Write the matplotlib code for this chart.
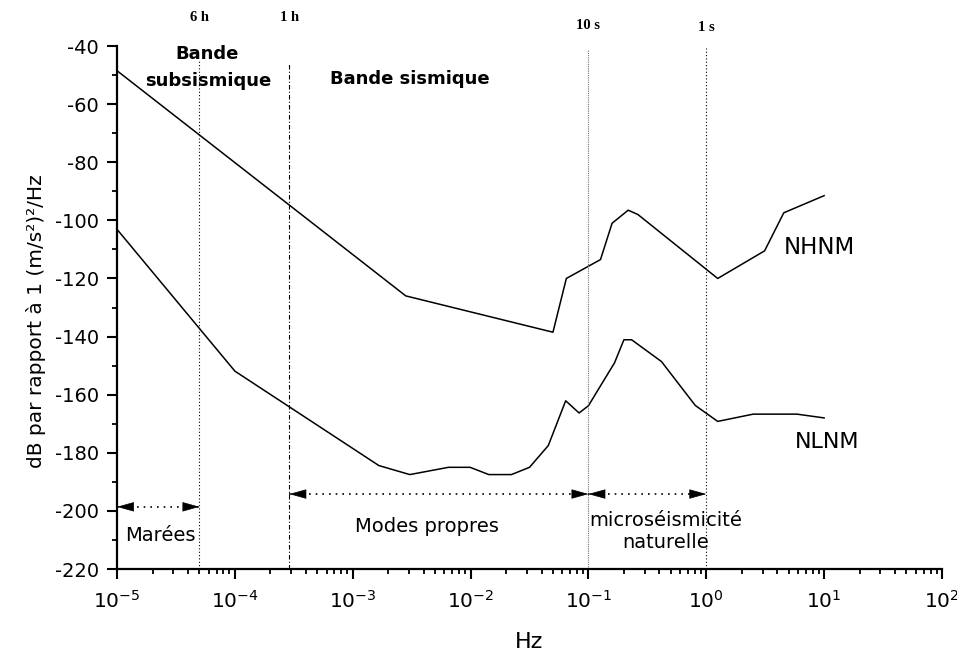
import numpy as np
import matplotlib
matplotlib.use('Agg')
import matplotlib.pyplot as plt
from matplotlib.ticker import MultipleLocator, LogLocator, NullFormatter

# Peterson noise models (breakpoints)
nhnm_hz = [1e-5, 1/354.8, 1/20.0, 1/15.4, 1/7.9, 1/6.3, 1/4.6, 1/3.8, 1/0.8, 1/0.32, 1/0.22, 1/0.1]
nhnm_db = [-48.5, -126.0, -138.5, -120.0, -113.5, -101.0, -96.5, -98.0, -120.0, -110.5, -97.4, -91.5]

nlnm_hz = [1e-5, 1e-4, 1/600., 1/328., 1/154., 1/101., 1/70., 1/45., 1/31.6, 1/21.9, 1/15.6,
           1/12., 1/10., 1/6., 1/5., 1/4.3, 1/2.4, 1/1.24, 1/0.8, 1/0.4, 1/0.17, 1/0.1]
nlnm_db = [-103.1, -151.9, -184.4, -187.5, -185.0, -185.0, -187.5, -187.5, -185.0, -177.5, -162.1,
           -166.3, -163.8, -149.0, -141.1, -141.1, -148.6, -163.7, -169.2, -166.7, -166.7, -168.0]

# vertical period markers
mark_hz = [5e-5, 2.9e-4, 0.1, 1.0]
mark_top = [-44.8, -45.9, -41.4, -40.7]
mark_lbl = ['6 h', '1 h', '10 s', '1 s']
mark_lbl_y = [-30.3, -30.3, -33.0, -33.6]
mark_style = [(0, (1, 2)), (0, (4, 2, 1, 2)), (0, (1, 1)), (0, (1, 2))]
mark_color = ['k', 'k', '0.45', 'k']

# range arrows (start Hz, end Hz, level dB)
arr_x0 = [1e-5, 2.9e-4, 0.1]
arr_x1 = [5e-5, 0.1, 1.0]
arr_y = [-198.6, -194.2, -194.2]

plt.rcParams['font.family'] = ['DejaVu Sans']
plt.rcParams['axes.unicode_minus'] = False
fig = plt.figure(figsize=(9.57, 6.52), dpi=100)
ax = fig.add_axes([0.1223, 0.1273, 0.8620, 0.8021])

ax.plot(nhnm_hz, nhnm_db, color='k', lw=1.1)
ax.plot(nlnm_hz, nlnm_db, color='k', lw=1.1)
ax.set_xscale('log')
ax.set_xlim(1e-5, 1e2)
ax.set_ylim(-220, -40)

for xv, top, ls, c in zip(mark_hz, mark_top, mark_style, mark_color):
    ax.plot([xv, xv], [-220, top], color=c, lw=0.8, linestyle=ls)
for xv, lab, yv in zip(mark_hz, mark_lbl, mark_lbl_y):
    ax.text(xv, yv, lab, ha='center', va='center', fontsize=10.5, fontweight='bold',
            family='Liberation Serif', clip_on=False)

# band titles
ax.text(5.8e-5, -42.8, 'Bande', ha='center', va='center', fontsize=13, fontweight='bold')
ax.text(6.0e-5, -52.0, 'subsismique', ha='center', va='center', fontsize=13, fontweight='bold')
ax.text(3.05e-3, -51.3, 'Bande sismique', ha='center', va='center', fontsize=13, fontweight='bold')

# dotted shafts with solid heads
for x0, x1, yv in zip(arr_x0, arr_x1, arr_y):
    ax.plot([x0, x1], [yv, yv], color='k', lw=1.2, linestyle=(0, (1, 3)))
    for tip, base in [(x0, x0 * 1.3), (x1, x1 / 1.3)]:
        ax.annotate('', xy=(tip, yv), xytext=(base, yv),
                    arrowprops=dict(arrowstyle='-|>,head_length=1.0,head_width=0.28',
                                    mutation_scale=11, color='k', lw=0.5,
                                    shrinkA=0, shrinkB=0))

ax.text(1.17e-5, -208.3, 'Marées', ha='left', va='center', fontsize=14)
ax.text(4.26e-3, -205.2, 'Modes propres', ha='center', va='center', fontsize=14)
ax.text(0.454, -207.1, 'microséismicité\nnaturelle', ha='center', va='center', fontsize=14,
        linespacing=1.25)
ax.text(4.5, -109.2, 'NHNM', ha='left', va='center', fontsize=16.5)
ax.text(5.6, -176.3, 'NLNM', ha='left', va='center', fontsize=16)

# axes styling
for s in ['top', 'right']:
    ax.spines[s].set_visible(False)
for s in ['left', 'bottom']:
    ax.spines[s].set_linewidth(1.6)
ax.yaxis.set_major_locator(MultipleLocator(20))
ax.yaxis.set_minor_locator(MultipleLocator(10))
ax.xaxis.set_major_locator(LogLocator(base=10, numticks=10))
ax.xaxis.set_minor_locator(LogLocator(base=10, subs=np.arange(2, 10), numticks=10))
ax.xaxis.set_minor_formatter(NullFormatter())
ax.tick_params(which='major', length=7, width=1.5, labelsize=14)
ax.tick_params(which='minor', length=3.5, width=1.3)
ax.tick_params(axis='y', pad=6)
ax.tick_params(axis='x', pad=8, labelsize=14.5)

ax.set_ylabel('dB par rapport à 1 (m/s²)²/Hz', fontsize=14.5)
ax.set_xlabel('Hz', fontsize=16)
ax.yaxis.set_label_coords(-0.086, 0.474)
ax.xaxis.set_label_coords(0.5, -0.12)

fig.savefig('out.png', dpi=100)
